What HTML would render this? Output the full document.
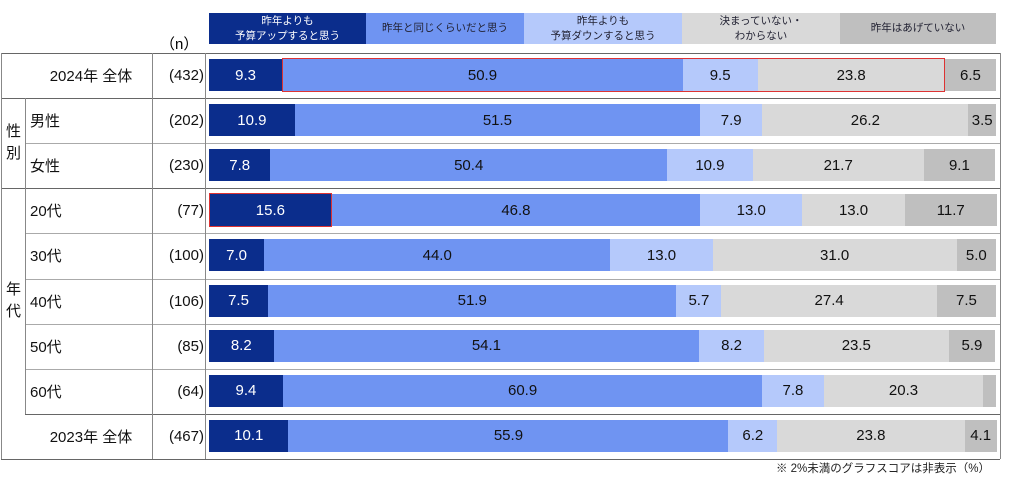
<!DOCTYPE html>
<html><head><meta charset="utf-8"><style>
body{margin:0;width:1024px;height:484px;background:#fff;font-family:"Liberation Sans","Noto Sans CJK JP",sans-serif;overflow:hidden;position:relative}
.a{position:absolute}
.lg{position:absolute;top:13px;height:31px;display:flex;align-items:center;justify-content:center;text-align:center;font-size:10.5px;line-height:15px;color:#223}
.hl{position:absolute;height:1px;background:#888}
.vl{position:absolute;width:1px;background:#888}
.lab{position:absolute;font-size:15px;color:#111;display:flex;align-items:center}
.seg{position:absolute;display:flex;align-items:center;justify-content:center;font-size:15px;color:#111}
</style></head><body>
<div class="lg" style="left:209px;width:157px;background:#0b2d8c;color:#fff">昨年よりも<br>予算アップすると思う</div>
<div class="lg" style="left:366px;width:158px;background:#6f94f2">昨年と同じくらいだと思う</div>
<div class="lg" style="left:524px;width:158px;background:#b5c9fb">昨年よりも<br>予算ダウンすると思う</div>
<div class="lg" style="left:682px;width:158px;background:#d9d9d9">決まっていない・<br>わからない</div>
<div class="lg" style="left:840px;width:156px;background:#bfbfbf">昨年はあげていない</div>
<div class="a" style="left:160px;top:33px;font-size:15px">（n）</div>
<div id="chart"></div>
<div class="a" style="right:34px;top:460px;font-size:11.5px;color:#222">※ 2%未満のグラフスコアは非表示（%）</div>
<script>
const categories=["2024年 全体","男性","女性","20代","30代","40代","50代","60代","2023年 全体"];
const nValues=["(432)","(202)","(230)","(77)","(100)","(106)","(85)","(64)","(467)"];
const up=[9.3,10.9,7.8,15.6,7.0,7.5,8.2,9.4,10.1];
const same=[50.9,51.5,50.4,46.8,44.0,51.9,54.1,60.9,55.9];
const down=[9.5,7.9,10.9,13.0,13.0,5.7,8.2,7.8,6.2];
const undecided=[23.8,26.2,21.7,13.0,31.0,27.4,23.5,20.3,23.8];
const none=[6.5,3.5,9.1,11.7,5.0,7.5,5.9,1.6,4.1];
const series=[up,same,down,undecided,none];
const seriesNames=["up","same","down","undecided","none"];
const colors=["#0b2d8c","#6f94f2","#b5c9fb","#d9d9d9","#bfbfbf"];
const X0=209,W=787,T=53,RH=45.1;
const x=v=>X0+v*W/100;
const y=i=>T+i*RH;
const c=document.getElementById('chart');
function add(cls,st,txt){const d=document.createElement('div');d.className=cls;d.style.cssText=st;if(txt!=null)d.textContent=txt;c.appendChild(d);return d;}
for(let i=0;i<=categories.length;i++){
 let l=(i==2||(i>=4&&i<=8))?25:1;
 const h=add('hl',`left:${l}px;top:${y(i)}px;width:${1000-l}px;background:${(i==0||i==1||i==3||i==8||i==9)?'#666':'#aaa'}`);
 
}
[[1,T,y(9)-T],[152,T,y(9)-T],[205,T,y(9)-T],[25,y(1),y(8)-y(1)],[1000,T,y(9)-T]].forEach(v=>{
 const d=add('vl',`left:${v[0]}px;top:${v[1]}px;height:${v[2]}px`);
 
});
const g1=add('lab',`left:6px;top:${y(1)}px;height:${RH*2}px;width:16px;line-height:22px;text-align:center`,'');g1.innerHTML='性<br>別';

const g2=add('lab',`left:6px;top:${y(3)}px;height:${RH*5}px;width:16px;line-height:22px`,'');g2.innerHTML='年<br>代';

categories.forEach((cat,i)=>{
 const full=(i==0||i==8);
 const l=add('lab',`left:${full?31:30}px;top:${y(i)}px;height:${RH}px;${full?'width:120px;justify-content:center':''}`,cat);
 
 const n=add('lab',`left:152px;width:52px;justify-content:flex-end;top:${y(i)}px;height:${RH}px`,nValues[i]);
 
 let acc=0;
 series.forEach((s,k)=>{
  const v=s[i];
  const sg=add('seg',`left:${x(acc)}px;width:${x(acc+v)-x(acc)}px;top:${y(i)+6}px;height:${RH-13}px;background:${colors[k]};color:${k==0?'#fff':'#111'}`,v>=2?v.toFixed(1):'');
  
  acc+=v;
 });
});
const h1=add('a',`left:${x(up[0])}px;top:${y(0)+5}px;width:${x(up[0]+same[0]+down[0]+undecided[0])-x(up[0])-2}px;height:${RH-13}px;border:1.5px solid #d33`);

const h2=add('a',`left:${x(0)}px;top:${y(3)+5}px;width:${x(up[3])-x(0)-2}px;height:${RH-13}px;border:1.5px solid #d33`);

</script>
</body></html>
